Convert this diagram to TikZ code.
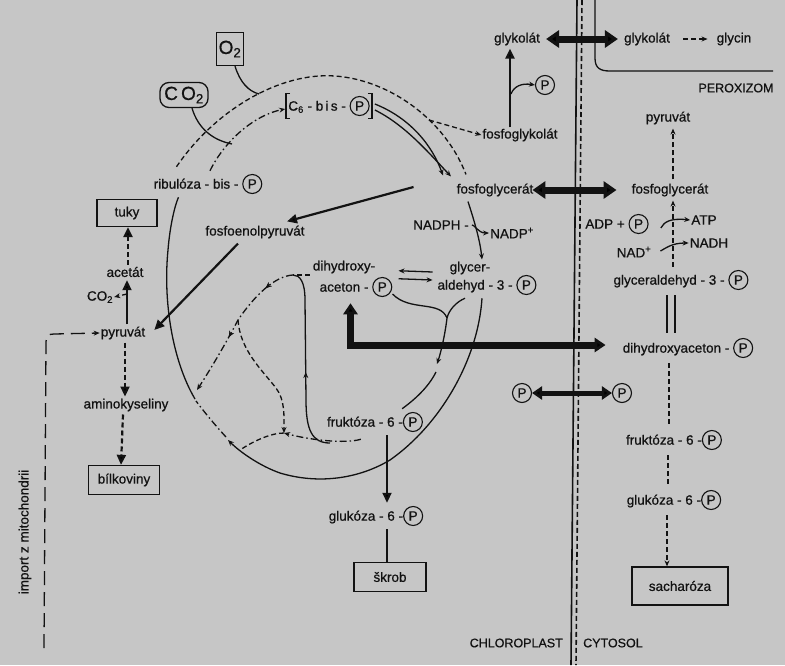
\documentclass[tikz,border=0pt]{standalone}
\usepackage{fontspec}
\setmainfont{Liberation Sans}[FakeBold=0.7]
\usetikzlibrary{arrows.meta,calc,decorations.markings}
\definecolor{bg}{RGB}{198,198,198}
\definecolor{ink}{RGB}{18,18,18}
\newcommand{\Pcirc}{\tikz[baseline=(pc.base)]\node[draw=ink,circle,line width=1.1pt,inner sep=0pt,minimum size=19pt](pc){P};}
\begin{document}
\begin{tikzpicture}[x=1pt,y=-1pt,
  every node/.style={font=\fontsize{13.5}{15}\selectfont,text=ink,inner sep=1pt},
  box/.style={draw=ink,line width=1.3pt},
  pc/.style={draw=ink,circle,line width=1.1pt,inner sep=0pt,minimum size=19pt},
  ln/.style={draw=ink,line width=1.3pt},
  dsh/.style={ln,dash pattern=on 5pt off 3pt},
  dd/.style={ln,dash pattern=on 7pt off 3pt on 1.5pt off 3pt},
  tip/.style={-{Stealth[length=6pt,width=5pt]}},
  heavy/.style={draw=ink,line width=2.2pt},
  htip/.style={-{Triangle[length=10pt,width=9pt]}},
  big/.style={draw=ink,line width=7pt,{Triangle[length=13pt,width=17pt]}-{Triangle[length=13pt,width=17pt]}},
  midarr/.style={postaction={decorate},decoration={markings,mark=at position #1 with {\arrow{Stealth[length=6pt,width=5pt]}}}},
  small/.style={font=\fontsize{12.5}{14}\selectfont}
]
\path[fill=bg,use as bounding box] (0,0) rectangle (785,665);

% ---------- nodes ----------
\node[box,minimum width=27pt,minimum height=33pt,font=\fontsize{19}{20}\selectfont] (otwo) at (230,49) {O\textsubscript{2}};
\node[box,rounded corners=9pt,minimum width=48pt,minimum height=25pt,font=\fontsize{19}{20}\selectfont] (cotwo) at (184,95) {C\,O\textsubscript{2}};
\node[inner sep=2pt] (c6) at (329,106) {C\textsubscript{6} - b\,i\,s - \Pcirc};
\node (glykA) at (517,39) {glykolát};
\node (glykB) at (647,39) {glykolát};
\node (glycin) at (734,39) {glycin};
\node[small] (perox) at (736,88) {PEROXIZOM};
\node[pc] (pglyk) at (545,85) {P};
\node (fglyk) at (520,135) {fosfoglykolát};
\node (pyrC) at (668,118) {pyruvát};
\node (fgA) at (495,190) {fosfoglycerát};
\node (fgB) at (670,190) {fosfoglycerát};
\node (nadph) at (441,225) {NADPH -};
\node (nadp) at (512,233) {NADP\textsuperscript{+}};
\node (adp) at (617,224) {ADP + \Pcirc};
\node (atp) at (704,220) {ATP};
\node (nad) at (634,252) {NAD\textsuperscript{+}};
\node (nadh) at (709,243) {NADH};
\node (gl1) at (470,268) {glycer-};
\node (gl2) at (487,285) {aldehyd - 3 - \Pcirc};
\node (dh1) at (344,267) {dihydroxy-};
\node (dh2) at (356,287) {aceton - \Pcirc};
\node (gapB) at (681,280) {glyceraldehyd - 3 - \Pcirc};
\node (dhapB) at (688,348) {dihydroxyaceton - \Pcirc};
\node[pc] (pA) at (522,393) {P};
\node[pc] (pB) at (622,393) {P};
\node (fruA) at (375,422) {fruktóza - 6 -\Pcirc};
\node (gluA) at (376,516) {glukóza - 6 -\Pcirc};
\node[box,minimum width=72pt,minimum height=29pt] (skrob) at (390,577) {škrob};
\node (fruB) at (674,440) {fruktóza - 6 -\Pcirc};
\node (gluB) at (674,500) {glukóza - 6 -\Pcirc};
\node[box,minimum width=96pt,minimum height=38pt] (sach) at (680,586) {sacharóza};
\node[small,anchor=east] (chl) at (564,643) {CHLOROPLAST};
\node[small,anchor=west] (cyt) at (582,643) {CYTOSOL};
\node (ribu) at (208,184) {ribulóza - bis - \Pcirc};
\node (pep) at (255,232) {fosfoenolpyruvát};
\node[box,minimum width=60pt,minimum height=27pt] (tuky) at (127,213) {tuky};
\node (acet) at (125,272) {acetát};
\node (co2s) at (100,297) {CO\textsubscript{2}};
\node (pyrA) at (123,333) {pyruvát};
\node (amino) at (126,405) {aminokyseliny};
\node[box,minimum width=71pt,minimum height=29pt] (bilk) at (124,480) {bílkoviny};
\node[rotate=90] (imp) at (25,532) {import z mitochondrii};

% brackets around C6-bis-P
\draw[ln] ($(c6.north west)+(4,0)$) -- (c6.north west) -- (c6.south west) -- ++(4,0);
\draw[ln] ($(c6.north east)+(-4,0)$) -- (c6.north east) -- (c6.south east) -- ++(-4,0);

% ---------- membranes ----------
\draw[ln,line width=1.6pt] (577,0) -- (571,665);
\draw[dsh,line width=1.6pt] (582,0) -- (576,665);
\draw[ln] (595,0) -- (595,58) .. controls (595,68) and (600,71) .. (610,71) -- (773,71);

% ---------- top: O2 / CO2 ----------
\coordinate (oA) at (259,94);
\coordinate (cA) at (232,144);
\draw[ln] ($(otwo.south)+(5,0)$) .. controls (240,82) and (248,91) .. (oA);
\draw[ln] ($(cotwo.south)+(8,0)$) .. controls (198,128) and (212,140) .. (cA);

% outer dashed arc (oxygenation)
\draw[dsh] ($(ribu.north west)+(24,-6)$) .. controls (215,110) and (280,72) .. (335,76)
      .. controls (390,80) and (445,120) .. ($(fgA.north)+(-29,-8)$);
\draw[dsh,tip] (429,120) -- (fglyk.west);

% inner dash-dot arc ribulose -> C6
\draw[dd,tip] ($(ribu.north)+(2,-2)$) .. controls (225,140) and (255,115) .. ($(c6.west)+(-1,3)$);

% C6 -> fosfoglycerat (double)
\draw[ln,tip] ($(c6.east)+(3,-2)$) .. controls (410,118) and (432,145) .. ($(fgA.north)+(-52,-7)$);
\draw[ln,tip] ($(c6.east)+(3,4)$) .. controls (405,125) and (428,152) .. ($(fgA.north)+(-44,-6)$);

% fosfoglykolat -> glykolat
\draw[heavy,htip] ($(fglyk.north)+(-10,0)$) -- ($(glykA.south)+(-7,2)$);
\draw[ln,tip] (511,94) .. controls (514,86) and (522,83) .. (pglyk.west);
\draw[big] ($(glykA.east)+(5,0)$) -- ($(glykB.west)+(-5,0)$);
\draw[dsh,tip] ($(glykB.east)+(12,0)$) -- ($(glycin.west)+(-8,0)$);

% ---------- cytosol ----------
\draw[dsh,tip] ($(fgB.north)+(3,-3)$) -- ($(pyrC.south)+(5,3)$);
\draw[dsh,tip] ($(gapB.north)+(-8,-2)$) -- ($(fgB.south)+(3,3)$);
\draw[ln,tip] ($(adp.east)+(11,4)$) .. controls (664,222) and (670,218) .. (atp.west);
\draw[ln,tip] ($(nad.east)+(8,-1)$) .. controls (666,248) and (672,243) .. (nadh.west);
\draw[ln,line width=1.6pt] ($(gapB.south)+(-14,4)$) -- ($(dhapB.north)+(-21,-4)$);
\draw[ln,line width=1.6pt] ($(gapB.south)+(-6,4)$) -- ($(dhapB.north)+(-13,-4)$);
\draw[dsh] ($(dhapB.south)+(-19,4)$) -- ($(fruB.north)+(-5,-4)$);
\draw[dsh] ($(fruB.south)+(-6,4)$) -- ($(gluB.north)+(-6,-4)$);
\draw[dsh,tip] ($(gluB.south)+(-7,4)$) -- ($(sach.north)+(-13,0)$);

% ---------- transport arrows ----------
\draw[big] ($(fgA.east)+(-2,0)$) -- ($(fgB.west)+(-14,0)$);
\draw[draw=ink,line width=7pt,{Triangle[length=11pt,width=14pt]}-{Triangle[length=11pt,width=14pt]}]
  ($(dh2.south west)+(32,5)$) |- ($(dhapB.west)+(-16,-3)$);
\draw[draw=ink,line width=5pt,{Triangle[length=10pt,width=13pt]}-{Triangle[length=10pt,width=13pt]}] (pA.east) -- (pB.west);

% ---------- chloroplast left ----------
\draw[heavy,htip] ($(fgA.west)+(-42,-3)$) -- ($(pep.north)+(32,-3)$);
\draw[heavy,htip] ($(pep.south)+(-17,4)$) -- ($(pyrA.east)+(8,-3)$);
\draw[heavy,htip] ($(pyrA.north)+(4,-1)$) -- ($(acet.south)+(2,2)$);
\draw[dsh,line width=2.2pt,htip] ($(acet.north)+(3,-1)$) -- ($(tuky.south)+(1,0)$);
\draw[dsh,tip] (127,294) -- (co2s.east);
\draw[dsh,line width=2.2pt,htip] ($(pyrA.south)+(2,2)$) -- ($(amino.north)+(-1,-1)$);
\draw[dsh,line width=2.2pt,htip] ($(amino.south)+(-3,2)$) -- ($(bilk.north)+(-3,0)$);
\draw[ln,dash pattern=on 14pt off 7pt,tip] (44,648) -- (46,342) .. controls (46,336) and (48,334) .. (54,334) -- (pyrA.west);

% NADPH reduction
\draw[ln,tip] ($(fgA.south)+(-27,4)$) .. controls (474,220) and (480,240) .. ($(gl1.north)+(12,-1)$);
\draw[ln,tip] ($(nadph.east)+(2,0)$) .. controls (474,224) and (478,233) .. (nadp.west);

% DHAP <-> GAP
\draw[ln,tip] ($(gl1.west)+(-16,4)$) -- ($(dh2.north east)+(5,-5)$);
\draw[ln,tip] ($(dh2.north east)+(5,3)$) -- ($(gl1.west)+(-16,12)$);

% merge to fructose
\coordinate (mg) at (447,318);
\draw[ln] ($(dh2.east)+(-1,7)$) .. controls (410,312) and (440,300) .. (mg);
\draw[ln] ($(gl2.south)+(-22,2)$) .. controls (456,302) and (449,310) .. (mg);
\draw[ln,tip] (mg) .. controls (445,335) and (441,352) .. (437,364);
\draw[ln] (436,372) .. controls (428,388) and (414,400) .. ($(fruA.north east)+(-22,-2)$);

% outer circle (regeneration)
\draw[ln,tip] ($(gl2.south)+(-5,2)$) .. controls (478,360) and (440,425) .. (390,460)
      .. controls (360,478) and (320,485) .. (280,473) .. controls (260,466) and (240,452) .. (228,440);
\draw[dd] (226,437) .. controls (215,425) and (205,413) .. (196,401);
\draw[ln] (195,399) .. controls (172,360) and (163,300) .. (168,250)
      .. controls (170,225) and (175,205) .. ($(ribu.south west)+(26,2)$);

% inner loop
\coordinate (ub) at (330,443);
\coordinate (ut) at (293,275);
\coordinate (jn) at (238,320);
\coordinate (jb) at (284,433);
\draw[dd,tip] ($(fruA.south west)+(35,6)$) .. controls (345,444) and (310,440) .. (jb);
\draw[ln,midarr=0.45] (ub) .. controls (312,443) and (306,430) .. (306,400) -- (305,300)
      .. controls (305,282) and (300,275) .. (ut);
\draw[dsh] ($(dh1.west)+(-2,8)$) -- (ut);
\draw[dd,tip,midarr=0.2,midarr=0.6] (ut) .. controls (275,276) and (255,295) .. (jn)
      .. controls (225,345) and (210,370) .. (197,390);
\draw[dsh,tip] (jn) .. controls (240,350) and (262,370) .. (276,388)
      .. controls (285,400) and (284,415) .. (jb);
\draw[dsh] (jb) .. controls (270,433) and (252,442) .. (240,450);

% fructose -> glucose -> starch
\draw[heavy,htip] ($(fruA.south)+(12,2)$) -- ($(gluA.north)+(11,-2)$);
\draw[heavy] ($(gluA.south)+(11,2)$) -- ($(skrob.north)+(-3,0)$);
\end{tikzpicture}
\end{document}
